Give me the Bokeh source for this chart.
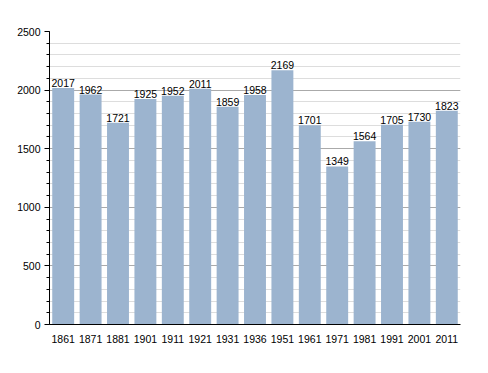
from bokeh.plotting import figure
from bokeh.models import ColumnDataSource, Range1d, FixedTicker, LabelSet
from bokeh.core.properties import value
from bokeh.embed import file_html
from bokeh.resources import INLINE

years = ["1861", "1871", "1881", "1901", "1911", "1921", "1931", "1936", "1951",
         "1961", "1971", "1981", "1991", "2001", "2011"]
population = [2017, 1962, 1721, 1925, 1952, 2011, 1859, 1958, 2169,
              1701, 1349, 1564, 1705, 1730, 1823]
y_ticks = [0, 500, 1000, 1500, 2000, 2500]

src = ColumnDataSource(dict(x=years, y=population, label=[str(v) for v in population]))

p = figure(x_range=years, y_range=Range1d(0, 2500), width=478, height=363,
           output_backend="svg", toolbar_location=None,
           min_border_left=49, min_border_right=18, min_border_top=31, min_border_bottom=39)
p.outline_line_color = None
p.background_fill_color = "white"

p.vbar(x="x", top="y", width=0.8, source=src, fill_color="#9cb4cf", line_color=None)

labels = LabelSet(x="x", y="y", text="label", source=src, text_align="center",
                  text_baseline="bottom", y_offset=1, text_font_size=value("10.5px"),
                  text_font=value("Liberation Sans"), text_color="black")
p.add_layout(labels)

p.yaxis.ticker = FixedTicker(ticks=y_ticks, minor_ticks=list(range(0, 2501, 100)))
p.yaxis.major_label_text_font = "Liberation Sans"
p.yaxis.major_label_text_font_size = "10.5px"
p.yaxis.major_label_text_color = "black"
p.yaxis.axis_line_color = "black"
p.yaxis.major_tick_line_color = "black"
p.yaxis.major_tick_out = 5
p.yaxis.major_tick_in = 0
p.yaxis.minor_tick_line_color = "black"
p.yaxis.minor_tick_out = 3
p.yaxis.minor_tick_in = 0
p.yaxis.major_label_standoff = 4

p.xaxis.major_label_text_font = "Liberation Sans"
p.xaxis.major_label_text_font_size = "10.5px"
p.xaxis.major_label_text_color = "black"
p.xaxis.axis_line_color = "black"
p.xaxis.major_tick_line_color = None
p.xaxis.minor_tick_line_color = None
p.xaxis.major_label_standoff = 4

p.xgrid.grid_line_color = None
p.ygrid.grid_line_color = "#aaaaaa"
p.ygrid.minor_grid_line_color = "#dddddd"
p.ygrid.level = "underlay"

open("out.html", "w").write(file_html(p, INLINE))
